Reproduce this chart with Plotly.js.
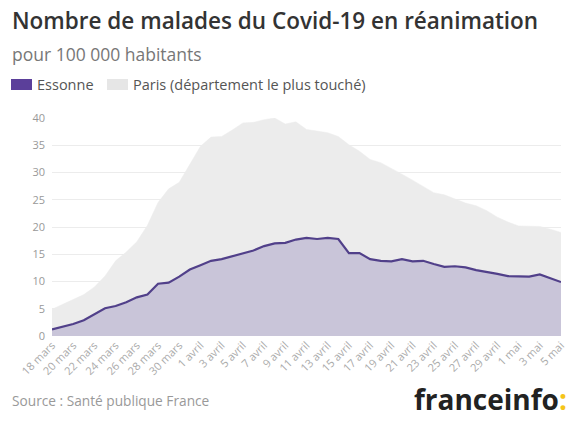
<!DOCTYPE html>
<html>
<head>
<meta charset="utf-8">
<script src="https://cdn.plot.ly/plotly-3.0.1.min.js"></script>
<style>
html,body{margin:0;padding:0;background:#fff;}
#chart{width:578px;height:427px;}
</style>
</head>
<body>
<div id="chart"></div>
<script>
const dates = ["18 mars","19 mars","20 mars","21 mars","22 mars","23 mars","24 mars","25 mars","26 mars","27 mars","28 mars","29 mars","30 mars","31 mars",
"1 avril","2 avril","3 avril","4 avril","5 avril","6 avril","7 avril","8 avril","9 avril","10 avril","11 avril","12 avril","13 avril","14 avril","15 avril",
"16 avril","17 avril","18 avril","19 avril","20 avril","21 avril","22 avril","23 avril","24 avril","25 avril","26 avril","27 avril","28 avril","29 avril","30 avril",
"1 mai","2 mai","3 mai","4 mai","5 mai"];
const tickLabels = ["18 mars","20 mars","22 mars","24 mars","26 mars","28 mars","30 mars","1 avril","3 avril","5 avril","7 avril","9 avril","11 avril","13 avril",
"15 avril","17 avril","19 avril","21 avril","23 avril","25 avril","27 avril","29 avril","1 mai","3 mai","5 mai"];
const essonne = [1.2,1.7,2.2,2.9,4.0,5.1,5.5,6.2,7.1,7.6,9.6,9.8,10.9,12.2,13.0,13.8,14.1,14.6,15.1,15.7,16.5,17.0,17.1,17.7,18.0,17.8,18.0,17.8,
15.2,15.2,14.1,13.8,13.7,14.1,13.7,13.8,13.2,12.7,12.8,12.6,12.1,11.8,11.4,11.0,10.9,10.9,11.3,10.6,9.9];
const paris = [4.9,5.8,6.7,7.6,9.0,11.0,13.8,15.4,17.3,20.3,24.5,27.0,28.2,31.5,34.8,36.5,36.6,37.8,39.1,39.2,39.7,40.0,38.9,39.3,37.9,37.6,37.3,36.6,
35.1,33.9,32.4,31.8,30.8,29.7,28.6,27.4,26.3,25.9,25.1,24.4,23.9,23.0,21.8,20.9,20.2,20.1,20.1,19.6,19.0];
const yTicks = [0,5,10,15,20,25,30,35,40];

const FONT = "'Open Sans', Lato, sans-serif";
const W = 509, H = 218, L = 52, T = 118;
const px = v => (v - L) / W;          // pixel x -> paper x
const py = v => (T + H - v) / H;      // pixel y -> paper y

const traces = [
  {x: dates, y: paris, type: 'scatter', mode: 'lines', fill: 'tozeroy',
   fillcolor: '#ececec', line: {color: '#ececec', width: 0.5}, name: 'Paris (département le plus touché)', hoverinfo: 'y'},
  {x: dates, y: essonne, type: 'scatter', mode: 'lines', fill: 'tozeroy',
   fillcolor: '#c9c5d9', line: {color: '#51408a', width: 2.2}, name: 'Essonne', hoverinfo: 'y'}
];

const layout = {
  width: 578, height: 427,
  margin: {l: L, r: 578 - L - W, t: T, b: 427 - T - H},
  paper_bgcolor: '#fff', plot_bgcolor: '#fff',
  showlegend: false,
  font: {family: FONT, color: '#aaa'},
  xaxis: {type: 'category', range: [0, 48], tickmode: 'array', tickvals: tickLabels, ticktext: tickLabels,
          tickangle: -45, tickfont: {size: 11, color: '#aaa', family: FONT}, showgrid: false, zeroline: false,
          showline: false, ticks: '', ticklen: 0},
  yaxis: {range: [0, 40], tickvals: yTicks, tickfont: {size: 11, color: '#999', family: FONT},
          gridcolor: '#ececec', gridwidth: 1, zeroline: false, showline: false, ticks: '', ticklabelstandoff: 6},
  shapes: [
    {type: 'rect', xref: 'paper', yref: 'paper', x0: px(11), x1: px(32), y0: py(90), y1: py(79), fillcolor: '#5b3f9a', line: {width: 0}},
    {type: 'rect', xref: 'paper', yref: 'paper', x0: px(107), x1: px(128), y0: py(90), y1: py(79), fillcolor: '#e6e6e6', line: {width: 0}}
  ],
  annotations: [
    {text: 'Nombre de malades du Covid-19 en réanimation', xref: 'paper', yref: 'paper', x: px(10), y: py(21),
     xanchor: 'left', yanchor: 'middle', showarrow: false, font: {size: 22.5, color: '#333', family: FONT, weight: 600}},
    {text: 'pour 100 000 habitants', xref: 'paper', yref: 'paper', x: px(10), y: py(54),
     xanchor: 'left', yanchor: 'middle', showarrow: false, font: {size: 17.5, color: '#777', family: FONT}},
    {text: 'Essonne', xref: 'paper', yref: 'paper', x: px(35), y: py(84),
     xanchor: 'left', yanchor: 'middle', showarrow: false, font: {size: 14.5, color: '#555', family: FONT}},
    {text: 'Paris (département le plus touché)', xref: 'paper', yref: 'paper', x: px(131), y: py(84),
     xanchor: 'left', yanchor: 'middle', showarrow: false, font: {size: 14.5, color: '#555', family: FONT}},
    {text: 'Source : Santé publique France', xref: 'paper', yref: 'paper', x: px(10), y: py(400),
     xanchor: 'left', yanchor: 'middle', showarrow: false, font: {size: 13.7, color: '#999', family: FONT}},
    {text: '<b>franceinfo</b><b style="color:#f5c518">:</b>', xref: 'paper', yref: 'paper', x: px(569), y: py(399),
     xanchor: 'right', yanchor: 'middle', showarrow: false, font: {size: 28, color: '#222', family: FONT}}
  ]
};

Plotly.newPlot('chart', traces, layout, {displayModeBar: false, staticPlot: true});
</script>
</body>
</html>
